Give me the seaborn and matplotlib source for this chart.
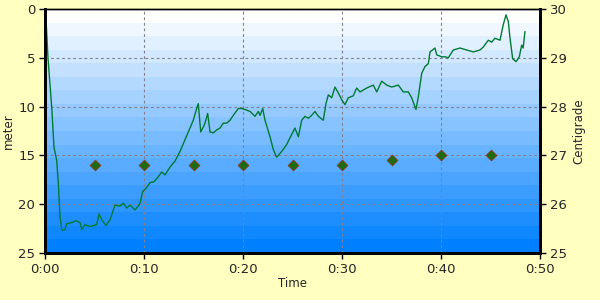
import numpy as np
import pandas as pd
import matplotlib
matplotlib.use("Agg")
import matplotlib.pyplot as plt
from matplotlib.colors import LinearSegmentedColormap
import seaborn as sns

# ---- data ----
depth_time = [0.10, 0.30, 0.68, 0.91, 1.18, 1.34, 1.52, 1.69, 1.85, 2.02, 2.19, 2.70, 3.13, 3.54, 3.71,
              4.04, 4.55, 5.22, 5.45, 5.73, 6.16, 6.57, 7.07, 7.58, 7.91, 8.25, 8.59, 9.09, 9.42, 9.60,
              9.87, 10.27, 10.61, 11.01, 11.44, 11.79, 12.12, 12.63, 13.13, 13.64, 14.14, 14.65, 14.98,
              15.32, 15.48, 15.73, 15.99, 16.16, 16.43, 16.67, 17.00, 17.34, 17.68, 18.01, 18.35, 18.69,
              19.02, 19.53, 19.87, 20.20, 20.71, 21.21, 21.55, 21.72, 21.99, 22.22, 22.73, 23.06, 23.40,
              23.91, 24.41, 24.75, 25.25, 25.59, 25.93, 26.26, 26.60, 26.94, 27.27, 27.61, 28.11, 28.38,
              28.62, 28.96, 29.29, 29.63, 29.97, 30.30, 30.64, 31.14, 31.48, 31.82, 32.49, 33.16, 33.51,
              34.01, 34.52, 35.02, 35.69, 36.19, 36.70, 37.04, 37.47, 37.71, 38.05, 38.38, 38.72, 38.89,
              39.39, 39.57, 40.07, 40.40, 40.74, 41.24, 41.92, 42.60, 43.26, 43.94, 44.27, 44.78, 45.12,
              45.45, 45.96, 46.29, 46.57, 46.80, 46.97, 47.24, 47.58, 47.91, 48.15, 48.30, 48.48]
depth_m = [1.0, 5.0, 10.1, 14.2, 15.5, 17.8, 21.3, 22.6, 22.7, 22.6, 22.0, 21.9, 21.7, 21.9, 22.6,
           22.1, 22.3, 22.1, 21.0, 21.6, 22.2, 21.6, 20.1, 20.2, 19.9, 20.4, 20.1, 20.6, 20.2, 19.9,
           18.7, 18.3, 17.8, 17.7, 17.2, 16.7, 17.0, 16.2, 15.6, 14.6, 13.4, 12.2, 11.4,
           10.2, 9.7, 12.6, 12.1, 11.7, 10.7, 12.6, 12.7, 12.4, 12.2, 11.7, 11.7, 11.4,
           10.9, 10.2, 10.2, 10.3, 10.5, 11.0, 10.5, 10.9, 10.2, 11.4, 13.1, 14.4, 15.2,
           14.6, 13.9, 13.2, 12.2, 13.1, 11.4, 11.0, 11.2, 10.9, 10.5, 11.0, 11.4, 9.7,
           8.8, 9.1, 8.0, 8.6, 9.3, 9.8, 9.1, 8.9, 8.1, 8.5, 8.1, 7.8, 8.5,
           7.4, 7.8, 8.0, 7.8, 8.5, 8.5, 9.1, 10.3, 9.0, 6.6, 5.9, 5.6, 4.4,
           4.0, 4.7, 4.9, 4.9, 5.0, 4.2, 4.0, 4.2, 4.4, 4.2, 3.9, 3.2, 3.4,
           3.0, 3.2, 1.6, 0.6, 1.3, 3.0, 5.1, 5.4, 4.9, 3.7, 4.0, 2.3]

temp_time = [5, 10, 15, 20, 25, 30, 35, 40, 45]
temp_c = [26.8, 26.8, 26.8, 26.8, 26.8, 26.8, 26.9, 27.0, 27.0]

x_ticks = [0, 10, 20, 30, 40, 50]
x_labels = ["0:00", "0:10", "0:20", "0:30", "0:40", "0:50"]
y_ticks = [0, 5, 10, 15, 20, 25]
t_ticks = [25, 26, 27, 28, 29, 30]

# ---- style ----
sns.set_style("ticks")
plt.rcParams["font.family"] = ["DejaVu Sans"]

bg = "#FFFFC0"
fig = plt.figure(figsize=(6, 3), dpi=100, facecolor=bg)
ax = fig.add_axes([0.075, 0.157, 0.825, 0.813])

# banded gradient background
cmap = LinearSegmentedColormap.from_list("g", ["#FFFFFF", "#0080FF"])
n_bands = 18
grad = np.linspace(0, 1, n_bands).reshape(-1, 1)
ax.imshow(grad, cmap=cmap, aspect="auto", extent=[0, 50, 25, 0],
          interpolation="nearest", zorder=0)

df = pd.DataFrame({"t": depth_time, "d": depth_m})
sns.lineplot(data=df, x="t", y="d", ax=ax, color="#007A33", linewidth=1.0,
             sort=False, estimator=None, zorder=3)

ax.set_xlim(0, 50)
ax.set_ylim(25, 0)
ax.set_xticks(x_ticks)
ax.set_xticklabels(x_labels)
ax.set_yticks(y_ticks)
ax.grid(True, color="#808090", linestyle=(0, (2.5, 2.5)), linewidth=0.8, zorder=1)
ax.set_axisbelow(False)
ax.set_xlabel("Time", fontsize=8.5)
ax.set_ylabel("meter", fontsize=8.5)
ax.xaxis.set_label_coords(0.5, -0.1)
ax.yaxis.set_label_coords(-0.06, 0.5)
ax.tick_params(axis="both", labelsize=9.5, length=4, width=1, color="black", pad=3)

ax2 = ax.twinx()
tdf = pd.DataFrame({"t": temp_time, "c": temp_c})
sns.scatterplot(data=tdf, x="t", y="c", ax=ax2, marker="D", s=30,
                color="#1E6B12", edgecolor="#8B3A1A", linewidth=0.6, zorder=4)
ax2.set_ylim(25, 30)
ax2.set_yticks(t_ticks)
ax2.set_ylabel("Centigrade", fontsize=8.5)
ax2.yaxis.set_label_coords(1.065, 0.5)
ax2.tick_params(axis="y", labelsize=9.5, length=4, width=1, color="black", pad=3)
ax2.set_xlim(0, 50)

for a in (ax, ax2):
    for side in ("left", "bottom", "right"):
        a.spines[side].set_linewidth(2)
        a.spines[side].set_color("black")
    a.spines["top"].set_linewidth(1)
    a.spines["top"].set_color("black")
    a.spines["top"].set_visible(True)
    a.spines["right"].set_visible(True)

fig.savefig("out.png", dpi=100, facecolor=bg)
